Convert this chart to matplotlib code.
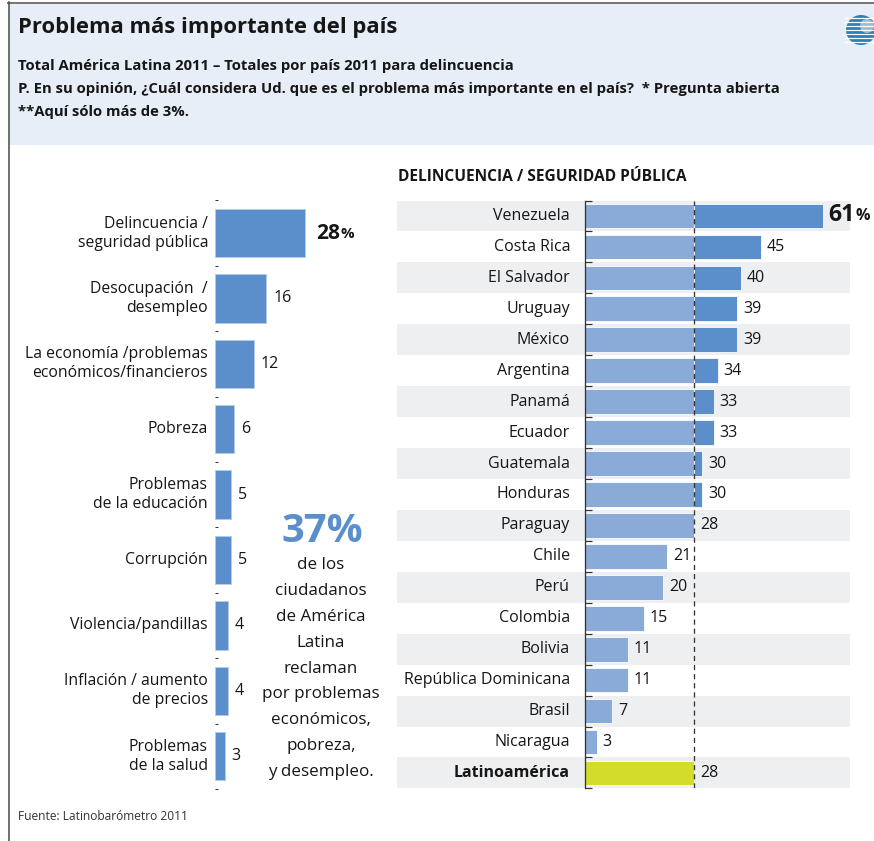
import numpy as np
import matplotlib
matplotlib.use("Agg")
import matplotlib.pyplot as plt
from matplotlib.patches import Rectangle, Circle

plt.rcParams['font.family'] = ['Open Sans', 'DejaVu Sans']

# --------------------
# Data
# --------------------
problems = [
    "Delincuencia /\nseguridad pública",
    "Desocupación  /\ndesempleo",
    "La economía /problemas\neconómicos/financieros",
    "Pobreza",
    "Problemas\nde la educación",
    "Corrupción",
    "Violencia/pandillas",
    "Inflación / aumento\nde precios",
    "Problemas\nde la salud",
]
problem_pct = [28, 16, 12, 6, 5, 5, 4, 4, 3]

countries = [
    "Venezuela", "Costa Rica", "El Salvador", "Uruguay", "México", "Argentina",
    "Panamá", "Ecuador", "Guatemala", "Honduras", "Paraguay", "Chile", "Perú",
    "Colombia", "Bolivia", "República Dominicana", "Brasil", "Nicaragua",
    "Latinoamérica",
]
country_pct = [61, 45, 40, 39, 39, 34, 33, 33, 30, 30, 28, 21, 20, 15, 11, 11, 7, 3, 28]
latam_avg = 28

middle_big = "37%"
middle_lines = ["de los", "ciudadanos", "de América", "Latina", "reclaman",
                "por problemas", "económicos,", "pobreza,", "y desempleo."]

# colours
DARK_BLUE = "#5b8fcb"
LIGHT_BLUE = "#8aaad8"
YELLOW = "#d4dc2a"
HEADER_BG = "#e8eef8"
BAND = "#eeeff1"
TXT = "#161616"

W, H = 874, 841
fig = plt.figure(figsize=(W / 72, H / 72), dpi=72)


def px_axes(x0, y0, w, h):
    return fig.add_axes([x0 / W, 1 - (y0 + h) / H, w / W, h / H])


# background / decoration axes in pixel coords
bg = px_axes(0, 0, W, H)
bg.set_xlim(0, W)
bg.set_ylim(H, 0)
bg.axis("off")

bg.add_patch(Rectangle((9, 3), W - 9, 142, color=HEADER_BG, lw=0))
bg.plot([8, W], [2.5, 2.5], color="#777777", lw=2)
bg.plot([8.5, 8.5], [2, H], color="#444444", lw=1.5)

# logo (simplified)
bg.add_patch(Circle((861, 30), 15, color="#2f80b8", lw=0))
for yy in np.arange(18, 44, 4):
    bg.plot([845, 877], [yy, yy], color="white", lw=1.2)
bg.add_patch(Circle((867, 26), 7, color="#ffffff", lw=0, alpha=0.5))

bg.text(18, 27, "Problema más importante del país", fontsize=22, fontweight="bold",
        color=TXT, va="center", ha="left")
subtitle = [
    "Total América Latina 2011 – Totales por país 2011 para delincuencia",
    "P. En su opinión, ¿Cuál considera Ud. que es el problema más importante en el país?  * Pregunta abierta",
    "**Aquí sólo más de 3%.",
]
for i, line in enumerate(subtitle):
    bg.text(18, 66 + 23 * i, line, fontsize=14.9, fontweight="bold", color=TXT,
            va="center", ha="left")

bg.text(18, 816, "Fuente: Latinobarómetro 2011", fontsize=12, color="#333333",
        va="center", ha="left")

bg.text(398, 177, "DELINCUENCIA / SEGURIDAD PÚBLICA", fontsize=15.5, fontweight="bold",
        color=TXT, va="center", ha="left")

# middle text
bg.text(322, 532, middle_big, fontsize=40, fontweight="bold", color=DARK_BLUE,
        ha="center", va="center")
for i, line in enumerate(middle_lines):
    bg.text(321, 565 + 25.9 * i, line, fontsize=17, color=TXT, ha="center", va="center")

# --------------------
# Left chart
# --------------------
pitch_l = 65.4
px_unit_l = 3.21
ax1 = px_axes(215, 233 - pitch_l / 2, 50 * px_unit_l, pitch_l * len(problems))
ax1.set_xlim(0, 50)
ax1.set_ylim(len(problems) - 0.5, -0.5)
y1 = np.arange(len(problems))
ax1.barh(y1, problem_pct, height=0.74, color=DARK_BLUE, edgecolor="#b3cbe8", lw=1)
for s in ax1.spines.values():
    s.set_visible(False)
ax1.set_xticks([])
ax1.set_yticks(np.arange(len(problems) + 1) - 0.5)
ax1.tick_params(axis="y", direction="in", length=3, width=1, color="#333333",
                labelleft=False)
ax1.set_facecolor("none")

for i, (lab, v) in enumerate(zip(problems, problem_pct)):
    ax1.annotate(lab, xy=(0, i), xytext=(-7, 0), textcoords="offset points",
                 ha="right", va="center", fontsize=15.8, color=TXT, linespacing=1.25,
                 multialignment="right")
    if i == 0:
        t = ax1.annotate(str(v), xy=(v, i), xytext=(11, 0), textcoords="offset points",
                         ha="left", va="center", fontsize=21, fontweight="bold", color=TXT)
        t_pct_left = t
    else:
        ax1.annotate(str(v), xy=(v, i), xytext=(7, 0), textcoords="offset points",
                     ha="left", va="center", fontsize=16, color=TXT)

# --------------------
# Right chart
# --------------------
pitch_r = 30.94
px_unit_r = 3.90
ax2 = px_axes(585, 216 - pitch_r / 2, 70 * px_unit_r, pitch_r * len(countries))
ax2.set_xlim(0, 70)
ax2.set_ylim(len(countries) - 0.5, -0.5)
ax2.set_facecolor("none")
y2 = np.arange(len(countries))

band_x0 = (397 - 585) / px_unit_r
for i in y2:
    if i % 2 == 0:
        ax2.add_patch(Rectangle((band_x0, i - 0.5), 68 - band_x0, 1, color=BAND, lw=0,
                                clip_on=False, zorder=0))

vals = np.array(country_pct)
light = np.minimum(vals, latam_avg)
dark = np.clip(vals - latam_avg, 0, None)
colors_light = [LIGHT_BLUE] * (len(countries) - 1) + [YELLOW]
ax2.barh(y2, light, height=0.8, color=colors_light, edgecolor="white", lw=0.8, zorder=2)
ax2.barh(y2, dark, left=latam_avg, height=0.8, color=DARK_BLUE, edgecolor="white",
         lw=0.8, zorder=2)
ax2.axvline(latam_avg, color="#333333", lw=1.3, ls=(0, (4, 3)), zorder=3)

for s in ["top", "right", "bottom"]:
    ax2.spines[s].set_visible(False)
ax2.spines["left"].set_color("#333333")
ax2.spines["left"].set_linewidth(1.3)
ax2.spines["left"].set_zorder(4)
ax2.set_xticks([])
ax2.set_yticks(np.arange(len(countries) + 1) - 0.5)
ax2.tick_params(axis="y", direction="in", length=7, width=1.2, color="#333333",
                labelleft=False)

for i, (lab, v) in enumerate(zip(countries, country_pct)):
    bold = lab == "Latinoamérica"
    ax2.annotate(lab, xy=(0, i), xytext=(-15, 0), textcoords="offset points",
                 ha="right", va="center", fontsize=16, color=TXT,
                 fontweight="bold" if bold else "normal")
    if i == 0:
        t = ax2.annotate(str(v), xy=(v, i), xytext=(5, 1), textcoords="offset points",
                         ha="left", va="center", fontsize=23, fontweight="bold", color=TXT)
        t_pct_right = t
    else:
        ax2.annotate(str(v), xy=(v, i), xytext=(6, 0), textcoords="offset points",
                     ha="left", va="center", fontsize=16, color=TXT)

# "%" signs after the big numbers
fig.canvas.draw()
r = fig.canvas.get_renderer()
for t, fs in [(t_pct_left, 15), (t_pct_right, 16)]:
    bb = t.get_window_extent(r)
    fig.text((bb.x1 + 1) / fig.bbox.width, (bb.y0 + bb.y1) / 2 / fig.bbox.height - 0.001,
             "%", fontsize=fs, fontweight="bold", color=TXT, ha="left", va="center")

fig.savefig("out.png", dpi=72, facecolor="white")
